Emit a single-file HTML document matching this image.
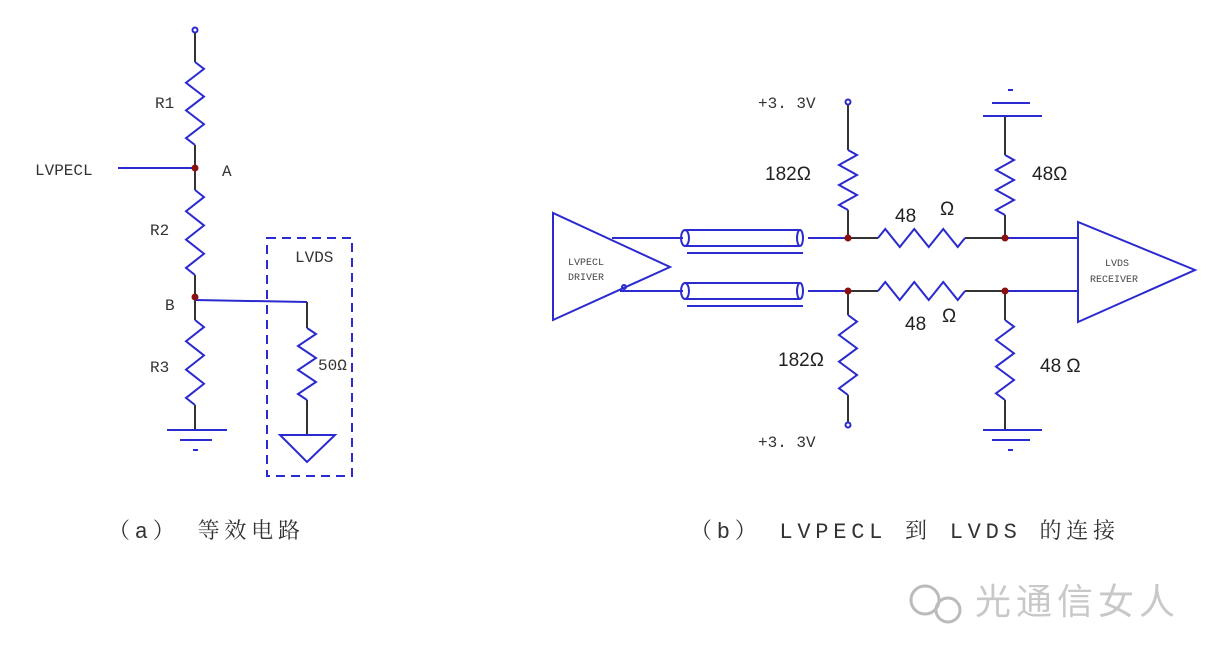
<!DOCTYPE html>
<html><head><meta charset="utf-8"><style>
html,body{margin:0;padding:0;background:#fff;width:1215px;height:665px;overflow:hidden}
svg{display:block}
.t{font-family:"Liberation Mono",monospace;font-size:16px;fill:#333}
.s{font-family:"Liberation Sans",sans-serif;font-size:19px;fill:#222}
</style></head><body>
<svg id="sv" width="1215" height="665" viewBox="0 0 1215 665" xmlns="http://www.w3.org/2000/svg">
<g stroke="#2a2ad0" stroke-width="2" fill="none" id="w">
<circle cx="195" cy="30" r="2.5"/>
<line x1="195" y1="33" x2="195" y2="62" stroke="#333"/>
<line x1="195" y1="145" x2="195" y2="190" stroke="#333"/>
<line x1="118" y1="168" x2="195" y2="168"/>
<line x1="195" y1="275" x2="195" y2="320" stroke="#333"/>
<line x1="195" y1="300" x2="307" y2="302"/>
<line x1="307" y1="302" x2="307" y2="328" stroke="#333"/>
<line x1="195" y1="405" x2="195" y2="430" stroke="#333"/>
<line x1="167" y1="430" x2="227" y2="430"/>
<line x1="180" y1="440" x2="212" y2="440"/>
<line x1="193" y1="450" x2="198" y2="450"/>
<line x1="307" y1="400" x2="307" y2="435" stroke="#333"/>
<polygon points="280,435 335,435 307,462"/>
<rect x="267" y="238" width="85" height="238" stroke-dasharray="9,6"/>
<polygon points="553,213 553,320 670,267"/>
<polygon points="1078,222 1078,322 1195,270"/>
<line x1="612" y1="238" x2="683" y2="238"/>
<line x1="620" y1="291" x2="683" y2="291"/>
<circle cx="624" cy="287" r="2"/>
<ellipse cx="685" cy="238" rx="4" ry="8"/>
<line x1="685" y1="230" x2="800" y2="230"/><line x1="685" y1="246" x2="800" y2="246"/>
<ellipse cx="800" cy="238" rx="3" ry="8"/>
<line x1="687" y1="253" x2="803" y2="253"/>
<ellipse cx="685" cy="291" rx="4" ry="8"/>
<line x1="685" y1="283" x2="800" y2="283"/><line x1="685" y1="299" x2="800" y2="299"/>
<ellipse cx="800" cy="291" rx="3" ry="8"/>
<line x1="687" y1="306" x2="803" y2="306"/>
<line x1="808" y1="238" x2="848" y2="238"/>
<line x1="808" y1="291" x2="848" y2="291"/>
<line x1="848" y1="238" x2="878" y2="238" stroke="#333"/>
<line x1="848" y1="291" x2="878" y2="291" stroke="#333"/>
<line x1="965" y1="238" x2="1005" y2="238" stroke="#333"/>
<line x1="965" y1="291" x2="1005" y2="291" stroke="#333"/>
<line x1="1005" y1="238" x2="1078" y2="238"/>
<line x1="1005" y1="291" x2="1078" y2="291"/>
<circle cx="848" cy="102" r="2.5"/>
<line x1="848" y1="105" x2="848" y2="150" stroke="#333"/>
<line x1="848" y1="210" x2="848" y2="238" stroke="#333"/>
<line x1="848" y1="291" x2="848" y2="315" stroke="#333"/>
<line x1="848" y1="395" x2="848" y2="422" stroke="#333"/>
<circle cx="848" cy="425" r="2.5"/>
<line x1="1005" y1="116" x2="1005" y2="155" stroke="#333"/>
<line x1="1005" y1="215" x2="1005" y2="238" stroke="#333"/>
<line x1="983" y1="116" x2="1042" y2="116"/><line x1="992" y1="103" x2="1030" y2="103"/><line x1="1008" y1="90" x2="1013" y2="90"/>
<line x1="1005" y1="291" x2="1005" y2="320" stroke="#333"/>
<line x1="1005" y1="400" x2="1005" y2="430" stroke="#333"/>
<line x1="983" y1="430" x2="1042" y2="430"/><line x1="992" y1="440" x2="1030" y2="440"/><line x1="1008" y1="450" x2="1013" y2="450"/>
</g>
<g fill="#8b1010">
<circle cx="195" cy="168" r="3.5"/><circle cx="195" cy="297" r="3.5"/>
<circle cx="848" cy="238" r="3.5"/><circle cx="1005" cy="238" r="3.5"/>
<circle cx="848" cy="291" r="3.5"/><circle cx="1005" cy="291" r="3.5"/>
</g>
<text class="t" x="35" y="175">LVPECL</text>
<text class="t" x="222" y="176">A</text>
<text class="t" x="155" y="108">R1</text>
<text class="t" x="150" y="235">R2</text>
<text class="t" x="165" y="310">B</text>
<text class="t" x="150" y="372">R3</text>
<text class="t" x="295" y="262">LVDS</text>
<text class="t" x="318" y="370" font-size="17">50Ω</text>
<text class="t" x="758" y="108">+3. 3V</text>
<text class="t" x="758" y="447">+3. 3V</text>
<text class="s" x="765" y="180">182Ω</text>
<text class="s" x="778" y="366">182Ω</text>
<text class="s" x="1032" y="180">48Ω</text>
<text class="s" x="1040" y="372">48 Ω</text>
<text class="s" x="895" y="222">48</text><text class="s" x="940" y="215">Ω</text>
<text class="s" x="905" y="330">48</text><text class="s" x="942" y="322">Ω</text>
<text x="568" y="265" font-family="Liberation Mono,monospace" font-size="10" fill="#444">LVPECL</text>
<text x="568" y="280" font-family="Liberation Mono,monospace" font-size="10" fill="#444">DRIVER</text>
<text x="1105" y="266" font-family="Liberation Mono,monospace" font-size="10" fill="#444">LVDS</text>
<text x="1090" y="282" font-family="Liberation Mono,monospace" font-size="10" fill="#444">RECEIVER</text>
<text x="108" y="538" textLength="192" lengthAdjust="spacing" font-family="Liberation Mono,'Noto Serif CJK SC',serif" font-size="22" fill="#333">（a） 等效电路</text>
<text x="690" y="538" textLength="425" lengthAdjust="spacing" font-family="Liberation Mono,'Noto Serif CJK SC',serif" font-size="22" fill="#333">（b） LVPECL 到 LVDS 的连接</text>
<g stroke="#bbb" stroke-width="3" fill="none"><circle cx="925" cy="600" r="14"/><circle cx="948" cy="610" r="12"/></g>
<text x="975" y="614" textLength="200" font-family="'Noto Sans CJK SC',sans-serif" font-size="36" fill="#c8c8c8">光通信女人</text>
</svg>
<script>
var g=document.getElementById('w'),NS='http://www.w3.org/2000/svg';
function zz(x,y0,y1,h){var s=(y1-y0)/6,p=[[x,y0]];for(var i=0;i<6;i++){var d=(i%2?-9:9);p.push(h?[y0+s*(i+0.5),x-d]:[x+d,y0+s*(i+0.5)]);}p.push(h?[y1,x]:[x,y1]);if(h)p[0]=[y0,x];
var e=document.createElementNS(NS,'polyline');e.setAttribute('points',p.map(function(a){return a.join(',')}).join(' '));g.appendChild(e);}
zz(195,62,145);zz(195,190,275);zz(195,320,405);zz(307,328,400);
zz(848,150,210);zz(848,315,395);zz(1005,155,215);zz(1005,320,400);
zz(238,878,965,1);zz(291,878,965,1);
</script>
</body></html>
